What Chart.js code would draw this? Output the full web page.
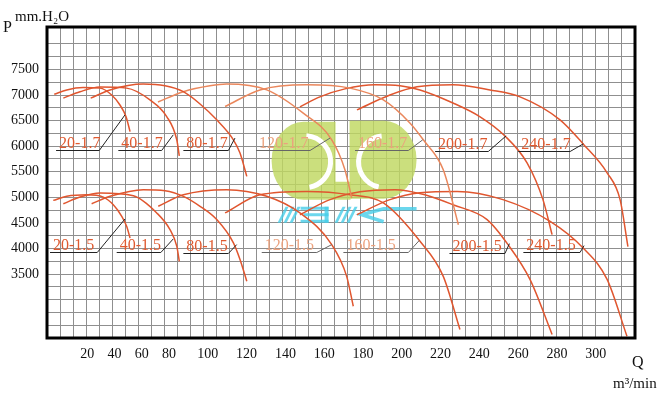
<!DOCTYPE html>
<html>
<head>
<meta charset="utf-8">
<title>Fan P-Q curves</title>
<script src="https://cdn.jsdelivr.net/npm/chart.js@4.4.1/dist/chart.umd.min.js"></script>
<style>
  html, body { margin: 0; padding: 0; background: #fff; }
  #wrap { width: 660px; height: 399px; }
</style>
</head>
<body>
<div id="wrap"><canvas id="pq"></canvas></div>
<script>
// ---- data ----
const qTicks = [20, 40, 60, 80, 100, 120, 140, 160, 180, 200, 220, 240, 260, 280, 300]; // m3/min
const pTicks = [3500, 4000, 4500, 5000, 5500, 6000, 6500, 7000, 7500];                   // mm.H2O

// 1.7 series
const q20_17 = [3.6, 9.8, 18, 29.3, 37.9, 44, 48.4, 51.4];
const p20_17 = [7015, 7100, 7145, 7135, 7000, 6805, 6580, 6285];
const q40_17 = [8.1, 16.4, 29.3, 48.9, 66, 78.3, 84, 85.3];
const p40_17 = [6940, 7065, 7155, 7135, 6905, 6580, 6125, 5810];
const q80_17 = [22.5, 36.7, 61.1, 77.1, 87.4, 96, 104.6, 113.2, 116.6, 120.1];
const p80_17 = [6940, 7100, 7215, 7180, 7065, 6825, 6515, 6125, 5865, 5410];
const q120_17 = [71.9, 87.4, 101.1, 109.7, 130.4, 149.2, 163.9, 170.7, 174.2];
const p120_17 = [6865, 7065, 7180, 7215, 7100, 6645, 6125, 5540, 4985];
const q160_17 = [108.9, 126.9, 151, 173.3, 190.5, 204.3, 211.1, 221.4, 229.2];
const p160_17 = [6775, 7100, 7200, 7135, 6905, 6450, 6125, 5540, 4465];
const q200_17 = [147.5, 157.8, 170.7, 186.2, 199.1, 209.4, 226.4, 240.4, 253.2, 264.6, 272.8, 277.5];
const p200_17 = [6770, 6965, 7120, 7200, 7180, 7100, 6845, 6575, 6200, 5675, 4955, 4270];
const q240_17 = [176.9, 193.9, 207.9, 226.4, 245.5, 261, 281.6, 293.5, 305.8, 312.4, 316.4];
const p240_17 = [6710, 7000, 7160, 7200, 7100, 6965, 6515, 6045, 5480, 4955, 4035];

// 1.5 series
const q20_15 = [3.1, 9.8, 19.7, 31.8, 39.1, 45.3, 48.9, 51.4];
const p20_15 = [4940, 5020, 5050, 5005, 4855, 4630, 4435, 4205];
const q40_15 = [8.1, 16.4, 29.3, 53.8, 71, 80.5, 84, 85.3];
const p40_15 = [4875, 5005, 5085, 5030, 4695, 4370, 4045, 3750];
const q80_15 = [23.2, 36.7, 61.1, 77.1, 87.4, 96, 104.6, 113.2, 116.6, 120.1];
const p80_15 = [4875, 5020, 5150, 5130, 5020, 4825, 4565, 4110, 3785, 3360];
const q120_15 = [72.1, 87.4, 109.7, 130.4, 147.5, 163.9, 171.6, 175];
const p120_15 = [4825, 5050, 5150, 5020, 4695, 4075, 3455, 2870];
const q160_15 = [108.9, 126.9, 151, 173.3, 190.5, 209.4, 221.4, 230];
const p160_15 = [4695, 5050, 5115, 5050, 4890, 4140, 3455, 2415];
const q200_15 = [147.5, 163, 178.5, 196.5, 211.9, 226.4, 244, 254.8, 266.1, 277.5];
const p200_15 = [4660, 4955, 5110, 5150, 5050, 4855, 4565, 4075, 3395, 2320];
const q240_15 = [176.9, 193.9, 209.4, 228.5, 252.2, 276.5, 293.5, 305.8, 315.9];
const p240_15 = [4660, 4955, 5090, 5115, 4955, 4530, 4010, 3395, 2285];

const curveNames = ['20-1.7', '40-1.7', '80-1.7', '120-1.7', '160-1.7', '200-1.7', '240-1.7',
                    '20-1.5', '40-1.5', '80-1.5', '120-1.5', '160-1.5', '200-1.5', '240-1.5'];
const curveQ = [q20_17, q40_17, q80_17, q120_17, q160_17, q200_17, q240_17,
                q20_15, q40_15, q80_15, q120_15, q160_15, q200_15, q240_15];
const curveP = [p20_17, p40_17, p80_17, p120_17, p160_17, p200_17, p240_17,
                p20_15, p40_15, p80_15, p120_15, p160_15, p200_15, p240_15];

// name tags: underline from labelQ0 to labelQ1 at labelP, then a leader up to the curve
const labelQ0 = [4.5, 42.8, 87.4, 124.9, 175.9, 217.2, 260.1, 1.5, 41.6, 87.4, 127.8, 169.9, 224.6, 262.7];
const labelQ1 = [28.8, 74.6, 110.6, 152.7, 203.4, 244.6, 286.8, 27.3, 74, 110.6, 156.2, 203.4, 253.2, 291.9];
const labelP = [5925, 5925, 5925, 5925, 5925, 5900, 5915, 3925, 3925, 3920, 3925, 3925, 3910, 3925];
const tipQ = [47.7, 82.2, 114, 163, 210.8, 253.8, 293.6, 47.7, 82.2, 114.9, 163.9, 209.1, 255.5, 294];
const tipP = [6612, 6222, 6158, 6158, 6124, 6202, 6046, 4577, 4187, 4076, 4076, 4160, 4095, 4056];

// ---- styling ----
const SERIF = "'Liberation Serif', 'Times New Roman', serif";
const CURVE = '#e0562f';
const CURVE_PALE = '#ea875c';
const TAG = '#df5a30';
const TAG_PALE = '#eca27e';
const PALE = ['120-1.7', '160-1.7', '120-1.5', '160-1.5'];

// the printed Q axis is not evenly spaced: 0-20 and 20-80 are squeezed
const qKnots = [0, 20, 80, 300, 320];
const axisShare = [0, 0.0685, 0.2075, 0.9332, 1];

function mapPiece(v, from, to) {
    let i = 1;
    while (i < from.length - 1 && v > from[i]) i++;
    const t = (v - from[i - 1]) / (from[i] - from[i - 1]);
    return to[i - 1] + t * (to[i] - to[i - 1]);
}

class SqueezedScale extends Chart.LinearScale {
    getPixelForValue(value) {
        return this.left + mapPiece(value, qKnots, axisShare) * this.width;
    }
    getValueForPixel(pixel) {
        return mapPiece((pixel - this.left) / this.width, axisShare, qKnots);
    }
}
SqueezedScale.id = 'squeezed';
Chart.register(SqueezedScale);

// watermark logo, drawn under the curves
const logoPlugin = {
    id: 'logo',
    beforeDatasetsDraw(chart) {
        const { ctx, scales } = chart;
        const cx = scales.x.getPixelForValue(170);
        const cy = scales.y.getPixelForValue(5735);
        ctx.save();
        ctx.fillStyle = 'rgba(192, 216, 96, 0.82)';
        // left blob: round on the left, flat on the right
        ctx.beginPath();
        ctx.moveTo(cx - 8, cy - 38);
        ctx.lineTo(cx - 40, cy - 38);
        ctx.ellipse(cx - 40, cy + 1, 32, 39, 0, -Math.PI / 2, Math.PI / 2, true);
        ctx.lineTo(cx - 8, cy + 40);
        ctx.closePath();
        ctx.fill();
        // right blob: flat on the left, round on the right
        ctx.beginPath();
        ctx.moveTo(cx + 6, cy - 39);
        ctx.lineTo(cx + 40, cy - 39);
        ctx.ellipse(cx + 40, cy, 33, 39, 0, -Math.PI / 2, Math.PI / 2, false);
        ctx.lineTo(cx + 6, cy + 39);
        ctx.closePath();
        ctx.fill();
        // joining band at the bottom
        ctx.fillRect(cx - 9, cy + 22, 16, 18);
        // white rings
        ctx.strokeStyle = '#fff';
        ctx.lineWidth = 5;
        ctx.beginPath();
        ctx.arc(cx - 39, cy + 2, 26, -1.5, 1.38);
        ctx.stroke();
        ctx.beginPath();
        ctx.arc(cx + 41, cy + 2, 26, 1.8, 4.6);
        ctx.stroke();
        // cyan stripes under it
        ctx.fillStyle = 'rgba(70, 205, 232, 0.8)';
        const bar = (x) => {
            ctx.beginPath();
            ctx.moveTo(cx + x, cy + 63);
            ctx.lineTo(cx + x + 3, cy + 63);
            ctx.lineTo(cx + x + 11, cy + 47);
            ctx.lineTo(cx + x + 8, cy + 47);
            ctx.closePath();
            ctx.fill();
        };
        [-66, -60, -54, -9, -3, 3].forEach(bar);
        ctx.fillRect(cx - 43, cy + 47, 28, 3);
        ctx.fillRect(cx - 40, cy + 53.5, 25, 3);
        ctx.fillRect(cx - 43, cy + 60, 28, 3);
        ctx.fillRect(cx - 19, cy + 47, 4, 16);
        ctx.strokeStyle = 'rgba(70, 205, 232, 0.8)';
        ctx.lineWidth = 3.5;
        ctx.beginPath();
        ctx.moveTo(cx + 73, cy + 49);
        ctx.lineTo(cx + 40, cy + 49);
        ctx.lineTo(cx + 18, cy + 55);
        ctx.lineTo(cx + 40, cy + 62);
        ctx.stroke();
        ctx.restore();
    }
};

// name tags with leaders, frame and axis captions
const tagPlugin = {
    id: 'tags',
    afterDatasetsDraw(chart) {
        const { ctx, scales: { x, y } } = chart;
        ctx.save();
        ctx.font = '16px ' + SERIF;
        ctx.textBaseline = 'alphabetic';
        curveNames.forEach((name, i) => {
            const pale = PALE.includes(name);
            const x0 = x.getPixelForValue(labelQ0[i]);
            const x1 = x.getPixelForValue(labelQ1[i]);
            const ly = Math.round(y.getPixelForValue(labelP[i])) + 0.5;
            ctx.strokeStyle = pale ? '#666' : '#222';
            ctx.lineWidth = 1;
            ctx.beginPath();
            ctx.moveTo(x0, ly);
            ctx.lineTo(x1, ly);
            ctx.lineTo(x.getPixelForValue(tipQ[i]), y.getPixelForValue(tipP[i]));
            ctx.stroke();
            ctx.fillStyle = pale ? TAG_PALE : TAG;
            ctx.fillText(name, x0 + 3, ly - 3);
        });
        ctx.restore();
    },
    afterDraw(chart) {
        const { ctx, chartArea: a } = chart;
        ctx.save();
        ctx.strokeStyle = '#000';
        ctx.lineWidth = 3;
        ctx.strokeRect(a.left, a.top, a.right - a.left, a.bottom - a.top);
        ctx.fillStyle = '#111';
        ctx.textBaseline = 'alphabetic';
        ctx.font = '16px ' + SERIF;
        ctx.fillText('P', 3, 32);
        ctx.fillText('Q', 632, 367);
        ctx.font = '15px ' + SERIF;
        ctx.fillText('mm.H\u2082O', 15, 21);
        ctx.fillText('m\u00b3/min', 613, 388);
        ctx.restore();
    }
};

const datasets = curveNames.map((name, i) => ({
    label: name,
    data: curveQ[i].map((q, k) => ({ x: q, y: curveP[i][k] })),
    borderColor: (name === '120-1.7' || name === '160-1.7') ? CURVE_PALE : CURVE,
    borderWidth: 1.5,
    pointRadius: 0,
    fill: false,
    cubicInterpolationMode: 'monotone'
}));

new Chart(document.getElementById('pq'), {
    type: 'line',
    data: { datasets },
    options: {
        responsive: true,
        maintainAspectRatio: false,
        animation: false,
        layout: { padding: { top: 27, right: 25, bottom: 21, left: 0 } },
        plugins: { legend: { display: false }, tooltip: { enabled: false } },
        scales: {
            x: {
                type: 'squeezed',
                position: 'bottom',
                min: 0,
                max: 320,
                afterBuildTicks: s => { s.ticks = qTicks.map(v => ({ value: v })); },
                afterFit: s => { s.height = 40; },
                grid: { display: false },
                border: { display: false },
                ticks: {
                    autoSkip: false,
                    maxRotation: 0,
                    padding: 0,
                    color: '#111',
                    font: { family: SERIF, size: 14 },
                    callback: v => String(v)
                }
            },
            xg: {
                type: 'linear',
                position: 'top',
                min: 0,
                max: 45,
                afterFit: s => { s.height = 0; },
                border: { display: false },
                grid: { color: '#8f8f8f', lineWidth: 1, drawTicks: false },
                ticks: { display: false, stepSize: 1, autoSkip: false }
            },
            y: {
                type: 'linear',
                min: 2250,
                max: 8330,
                afterFit: s => { s.width = 47; },
                border: { display: false },
                grid: { color: '#8f8f8f', lineWidth: 1, drawTicks: false },
                ticks: {
                    stepSize: 250,
                    autoSkip: false,
                    padding: 8,
                    color: '#111',
                    font: { family: SERIF, size: 14 },
                    callback: v => (pTicks.includes(v) ? String(v) : '')
                }
            }
        }
    },
    plugins: [logoPlugin, tagPlugin]
});
</script>
</body>
</html>
